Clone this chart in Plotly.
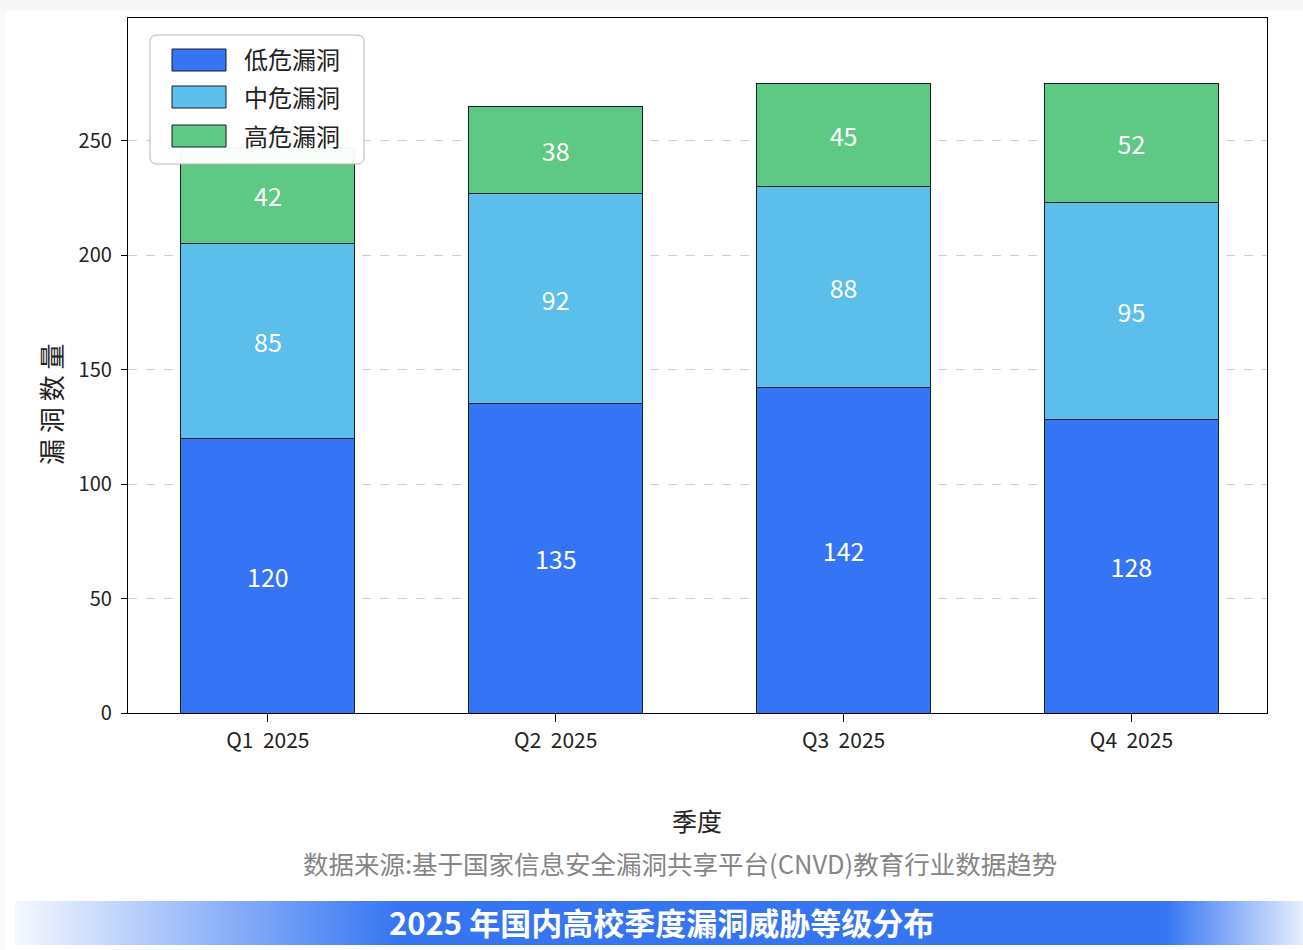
import base64
import plotly.graph_objects as go

# ---- data ----
quarters = ["Q1\u00a0\u00a02025", "Q2\u00a0\u00a02025", "Q3\u00a0\u00a02025", "Q4\u00a0\u00a02025"]
series_names = ["低危漏洞", "中危漏洞", "高危漏洞"]
low_vals = [120, 135, 142, 128]
mid_vals = [85, 92, 88, 95]
high_vals = [42, 38, 45, 52]
colors = ["#3474F5", "#5BBEEB", "#5EC984"]
y_ticks = [0, 50, 100, 150, 200, 250]

title_text = "2025 年国内高校季度漏洞威胁等级分布"
source_text = "数据来源:基于国家信息安全漏洞共享平台(CNVD)教育行业数据趋势"
x_title = "季度"
y_title = "漏 洞 数 量"

FONT = "Noto Sans CJK SC"
W, H = 1303, 950
L, R, T, B = 128, 1267, 18, 713  # plot area in pixels


def px(x):
    return (x - L) / (R - L)


def py(y):
    return (B - y) / (B - T)


fig = go.Figure()
for name, vals, c in zip(series_names, [low_vals, mid_vals, high_vals], colors):
    fig.add_trace(go.Bar(
        x=quarters, y=vals, name=name, width=0.605,
        marker=dict(color=c, line=dict(color="#16202c", width=1)),
        text=[str(v) for v in vals], textposition="inside",
        insidetextanchor="middle",
        textfont=dict(family=FONT, size=25, color="white"),
        showlegend=False,
    ))

shapes = []
annotations = []

# faint card edges
shapes.append(dict(type="rect", xref="paper", yref="paper", x0=px(0), x1=px(W), y0=py(0), y1=py(11),
                   fillcolor="#f6f7f8", line=dict(width=0), layer="below"))
shapes.append(dict(type="rect", xref="paper", yref="paper", x0=px(0), x1=px(5), y0=py(11), y1=py(H),
                   fillcolor="#f8f9fa", line=dict(width=0), layer="below"))

# gradient title band (SVG image)
band_x0, band_x1, band_y0, band_y1 = 15, 1303, 901, 945
bw, bh = band_x1 - band_x0, band_y1 - band_y0
svg = (
    f'<svg xmlns="http://www.w3.org/2000/svg" width="{bw}" height="{bh}" viewBox="0 0 {bw} {bh}" '
    f'preserveAspectRatio="none"><defs><linearGradient id="g" x1="0" y1="0" x2="1" y2="0">'
    f'<stop offset="0" stop-color="#3575F2" stop-opacity="0.05"/>'
    f'<stop offset="{(400 - band_x0) / bw:.3f}" stop-color="#3575F2" stop-opacity="1"/>'
    f'<stop offset="{(1165 - band_x0) / bw:.3f}" stop-color="#3575F2" stop-opacity="1"/>'
    f'<stop offset="1" stop-color="#3575F2" stop-opacity="0.12"/>'
    f'</linearGradient></defs><rect x="0" y="0" width="{bw}" height="{bh}" fill="url(#g)"/></svg>'
)
src = "data:image/svg+xml;base64," + base64.b64encode(svg.encode()).decode()
images = [dict(source=src, xref="paper", yref="paper", x=px(band_x0), y=py(band_y0),
               sizex=px(band_x1) - px(band_x0), sizey=py(band_y0) - py(band_y1),
               xanchor="left", yanchor="top", sizing="stretch", layer="below")]

# custom legend box (rounded)
lx0, lx1, ly0, ly1, rr = 150, 364, 35, 164, 7
path = (
    f"M {px(lx0 + rr)},{py(ly0)} L {px(lx1 - rr)},{py(ly0)} "
    f"Q {px(lx1)},{py(ly0)} {px(lx1)},{py(ly0 + rr)} "
    f"L {px(lx1)},{py(ly1 - rr)} Q {px(lx1)},{py(ly1)} {px(lx1 - rr)},{py(ly1)} "
    f"L {px(lx0 + rr)},{py(ly1)} Q {px(lx0)},{py(ly1)} {px(lx0)},{py(ly1 - rr)} "
    f"L {px(lx0)},{py(ly0 + rr)} Q {px(lx0)},{py(ly0)} {px(lx0 + rr)},{py(ly0)} Z"
)
shapes.append(dict(type="path", xref="paper", yref="paper", path=path,
                   fillcolor="rgba(255,255,255,0.96)", line=dict(color="#b5b5b5", width=1), layer="above"))
rows = [(49, 71), (86, 108), (125, 147)]
for (r0, r1), name, c in zip(rows, series_names, colors):
    shapes.append(dict(type="rect", xref="paper", yref="paper",
                       x0=px(172), x1=px(226), y0=py(r1), y1=py(r0),
                       fillcolor=c, line=dict(color="#16202c", width=1), layer="above"))
    annotations.append(dict(xref="paper", yref="paper", x=px(242), y=py((r0 + r1) / 2 - 1),
                            text=name, showarrow=False, xanchor="left", yanchor="middle",
                            font=dict(family=FONT, size=24, color="#222222")))

# titles
annotations.append(dict(xref="paper", yref="paper", x=px(697), y=py(820), text=x_title, showarrow=False,
                        xanchor="center", yanchor="middle", font=dict(family=FONT, size=25, color="#222222")))
annotations.append(dict(xref="paper", yref="paper", x=px(680), y=py(862), text=source_text, showarrow=False,
                        xanchor="center", yanchor="middle", font=dict(family=FONT, size=25.5, color="#858585")))
annotations.append(dict(xref="paper", yref="paper", x=px(50), y=py(405), text=y_title, showarrow=False,
                        textangle=-90, xanchor="center", yanchor="middle",
                        font=dict(family=FONT, size=26, color="#222222")))
annotations.append(dict(xref="paper", yref="paper", x=px(661), y=py(921), text="<b>" + title_text + "</b>",
                        showarrow=False, xanchor="center", yanchor="middle",
                        font=dict(family=FONT, size=31, color="white")))

fig.update_layout(
    width=W, height=H, barmode="stack",
    margin=dict(l=L, r=W - R, t=T, b=H - B, pad=0),
    paper_bgcolor="white", plot_bgcolor="white",
    font=dict(family=FONT, color="#222222"),
    shapes=shapes, annotations=annotations, images=images,
    showlegend=False,
)
fig.update_xaxes(
    range=[-0.486, 3.471], showline=True, linecolor="black", linewidth=1.3, mirror=True,
    ticks="outside", ticklen=8, tickcolor="black", tickwidth=1, ticklabelstandoff=1,
    tickfont=dict(family=FONT, size=21, color="#222222"), showgrid=False,
)
fig.update_yaxes(
    range=[0, 303.5], tickvals=y_ticks, showline=True, linecolor="black", linewidth=1.3, mirror=True,
    ticks="outside", ticklen=6, tickcolor="black", tickwidth=1, ticklabelstandoff=5,
    tickfont=dict(family=FONT, size=20, color="#222222"),
    showgrid=True, gridcolor="#cfcfcf", griddash="dash", gridwidth=1, zeroline=False,
)

fig.write_html("out.html")
